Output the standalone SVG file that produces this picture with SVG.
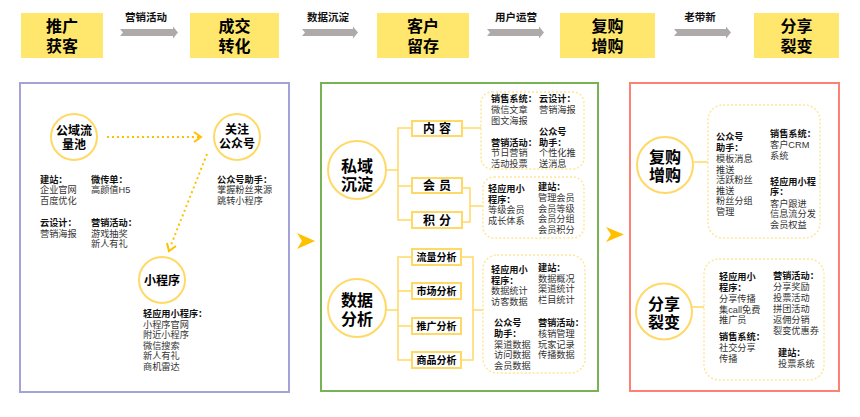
<svg xmlns="http://www.w3.org/2000/svg" width="860" height="417" viewBox="0 0 860 417">
<style>
text{font-family:"Liberation Sans","Noto Sans CJK SC",sans-serif;}
.top{font-size:16px;font-weight:bold;fill:#000;text-anchor:middle;}
.lbl{font-size:10.5px;font-weight:bold;fill:#111;text-anchor:middle;}
.ybox{fill:#FFE66D;}
.garrow{fill:#AEAAAA;}
.panel{fill:#fff;stroke-width:2;}
.circ{fill:#fff;stroke:#FFD966;stroke-width:2;}
.ct{font-size:12px;font-weight:bold;fill:#000;text-anchor:middle;}
.cb{font-size:16px;font-weight:bold;fill:#000;text-anchor:middle;}
.d{font-size:9.2px;fill:#333;}
.h{font-weight:bold;fill:#111;}
.dot{fill:none;stroke:#FFC000;stroke-width:2;stroke-dasharray:2 3;}
.dhead{fill:none;stroke:#FFC000;stroke-width:2;}
.br{fill:none;stroke:#FFD966;stroke-width:1.5;}
.sb{fill:#fff;stroke:#FFD966;stroke-width:2;}
.sbt{font-size:12px;font-weight:bold;fill:#000;text-anchor:middle;letter-spacing:4px;}
.sbs{font-size:10px;font-weight:bold;fill:#000;text-anchor:middle;}
.db{fill:#fff;stroke:#FFE699;stroke-width:1.5;stroke-dasharray:2 2;}
.chev{fill:#FFC000;}
</style>

<!-- Top flow -->
<g id="stage1"><rect class="ybox" x="21" y="13" width="82" height="45"/><text class="top" x="62" y="32">推广</text><text class="top" x="62" y="52">获客</text></g>
<g id="stage2"><rect class="ybox" x="190" y="13" width="89" height="45"/><text class="top" x="234.5" y="32">成交</text><text class="top" x="234.5" y="52">转化</text></g>
<g id="stage3"><rect class="ybox" x="377" y="13" width="92" height="45"/><text class="top" x="423" y="32">客户</text><text class="top" x="423" y="52">留存</text></g>
<g id="stage4"><rect class="ybox" x="560" y="13" width="95" height="45"/><text class="top" x="607.5" y="32">复购</text><text class="top" x="607.5" y="52">增购</text></g>
<g id="stage5"><rect class="ybox" x="754" y="13" width="85" height="45"/><text class="top" x="796.5" y="32">分享</text><text class="top" x="796.5" y="52">裂变</text></g>

<g id="top-connectors">
<polygon class="garrow" points="120,29 173,29 173,26.5 178,32.5 173,38.5 173,36 120,36 123,32.5"/>
<text class="lbl" x="146" y="21">营销活动</text>
<polygon class="garrow" points="302,29 353,29 353,26.5 358,32.5 353,38.5 353,36 302,36 305,32.5"/>
<text class="lbl" x="328" y="21">数据沉淀</text>
<polygon class="garrow" points="487,29 539,29 539,26.5 544,32.5 539,38.5 539,36 487,36 490,32.5"/>
<text class="lbl" x="516" y="21">用户运营</text>
<polygon class="garrow" points="674,29 726,29 726,26.5 731,32.5 726,38.5 726,36 674,36 677,32.5"/>
<text class="lbl" x="700" y="21">老带新</text>
</g>

<!-- Panels -->
<rect class="panel" x="20" y="83" width="269" height="309" stroke="#A3A3D9"/>
<rect class="panel" x="321" y="83" width="277" height="308" stroke="#77B255"/>
<rect class="panel" x="630" y="83" width="209" height="308" stroke="#FF8075"/>
<polygon class="chev" points="297,233 315,241 297,249 302,241"/>
<polygon class="chev" points="606,227 624,234.5 606,242 611,234.5"/>

<!-- Left panel connectors -->
<g id="left-connectors">
<line class="dot" x1="107" y1="137" x2="199" y2="137"/>
<polyline class="dhead" points="194,132 201,137 194,142"/>
<line class="dot" x1="207" y1="154" x2="171" y2="245"/>
<polyline class="dhead" points="176,246 169,251 167,243"/>
</g>

<g id="gongyu"><circle class="circ" cx="74" cy="137" r="23"/><text class="ct" x="74" y="135">公域流</text><text class="ct" x="74" y="149">量池</text></g>
<g id="guanzhu"><circle class="circ" cx="237" cy="137" r="23"/><text class="ct" x="237" y="134">关注</text><text class="ct" x="237" y="148">公众号</text></g>
<g id="xiaochengxu"><circle class="circ" cx="162" cy="280" r="23"/><text class="ct" x="162" y="285">小程序</text></g>

<g id="left-notes">
<text class="d" x="40" y="182.5"><tspan class="h">建站：</tspan><tspan x="40" dy="10.5">企业官网</tspan><tspan x="40" dy="10.5">百度优化</tspan></text>
<text class="d" x="91" y="182.5"><tspan class="h">微传单：</tspan><tspan x="91" dy="10.5">高颜值H5</tspan></text>
<text class="d" x="40" y="226"><tspan class="h">云设计：</tspan><tspan x="40" dy="10.5">营销海报</tspan></text>
<text class="d" x="91" y="226"><tspan class="h">营销活动：</tspan><tspan x="91" dy="10.5">游戏抽奖</tspan><tspan x="91" dy="10.5">新人有礼</tspan></text>
<text class="d" x="217" y="182.5"><tspan class="h">公众号助手：</tspan><tspan x="217" dy="10.5">掌握粉丝来源</tspan><tspan x="217" dy="10.5">跳转小程序</tspan></text>
<text class="d" x="143" y="317"><tspan class="h">轻应用小程序：</tspan><tspan x="143" dy="10.5">小程序官网</tspan><tspan x="143" dy="10.5">附近小程序</tspan><tspan x="143" dy="10.5">微信搜索</tspan><tspan x="143" dy="10.5">新人有礼</tspan><tspan x="143" dy="10.5">商机雷达</tspan></text>
</g>

<!-- Middle panel connectors -->
<g id="mid-connectors">
<polyline class="br" points="386,170 398,170"/>
<polyline class="br" points="412,128 398,128 398,220 412,220"/>
<line class="br" x1="398" y1="186" x2="412" y2="186"/>
<line class="br" x1="462" y1="128" x2="481" y2="128"/>
<polyline class="br" points="462,188 470,188 470,222 462,222"/>
<line class="br" x1="470" y1="206" x2="483" y2="206"/>
<polyline class="br" points="386,310 398,310"/>
<polyline class="br" points="412,257 398,257 398,360 412,360"/>
<line class="br" x1="398" y1="291" x2="412" y2="291"/>
<line class="br" x1="398" y1="326" x2="412" y2="326"/>
<polyline class="br" points="461,257 473,257 473,360 461,360"/>
<line class="br" x1="473" y1="310" x2="483" y2="310"/>
</g>

<g id="siyu"><circle class="circ" cx="357" cy="170" r="29"/><text class="cb" x="357" y="172">私域</text><text class="cb" x="357" y="190">沉淀</text></g>
<g id="shuju"><circle class="circ" cx="357" cy="308" r="29"/><text class="cb" x="357" y="306">数据</text><text class="cb" x="357" y="324.5">分析</text></g>

<g id="neirong"><rect class="sb" x="412" y="121" width="50" height="15"/><text class="sbt" x="439" y="133">内容</text></g>
<g id="huiyuan"><rect class="sb" x="412" y="178" width="50" height="15"/><text class="sbt" x="439" y="190">会员</text></g>
<g id="jifen"><rect class="sb" x="412" y="212" width="50" height="16"/><text class="sbt" x="439" y="224.5">积分</text></g>
<g id="liuliang"><rect class="sb" x="412" y="249" width="49" height="16"/><text class="sbs" x="436.5" y="261">流量分析</text></g>
<g id="shichang"><rect class="sb" x="412" y="283" width="49" height="16"/><text class="sbs" x="436.5" y="295">市场分析</text></g>
<g id="tuiguang"><rect class="sb" x="412" y="318" width="49" height="16"/><text class="sbs" x="436.5" y="330">推广分析</text></g>
<g id="shangpin"><rect class="sb" x="412" y="352" width="49" height="16"/><text class="sbs" x="436.5" y="364">商品分析</text></g>

<g id="mid-box1"><rect class="db" x="481" y="92" width="103" height="77" rx="11"/>
<text class="d" x="491" y="101.5"><tspan class="h">销售系统：</tspan><tspan x="491" dy="11">微信文章</tspan><tspan x="491" dy="11">图文海报</tspan></text>
<text class="d" x="539" y="101.5"><tspan class="h">云设计：</tspan><tspan x="539" dy="11">营销海报</tspan></text>
<text class="d" x="539" y="134.5"><tspan class="h">公众号</tspan><tspan class="h" x="539" dy="11">助手：</tspan><tspan x="539" dy="10.5">个性化推</tspan><tspan x="539" dy="10.5">送消息</tspan></text>
<text class="d" x="491" y="145.5"><tspan class="h">营销活动：</tspan><tspan x="491" dy="10.5">节日营销</tspan><tspan x="491" dy="10.5">活动投票</tspan></text>
</g>
<g id="mid-box2"><rect class="db" x="483" y="177" width="101" height="61" rx="11"/>
<text class="d" x="488" y="192"><tspan class="h">轻应用小</tspan><tspan class="h" x="488" dy="10.5">程序：</tspan><tspan x="488" dy="10.8">等级会员</tspan><tspan x="488" dy="10.7">成长体系</tspan></text>
<text class="d" x="538" y="190"><tspan class="h">建站：</tspan><tspan x="538" dy="10.8">管理会员</tspan><tspan x="538" dy="10.7">会员等级</tspan><tspan x="538" dy="10.7">会员分组</tspan><tspan x="538" dy="10.7">会员积分</tspan></text>
</g>
<g id="mid-box3"><rect class="db" x="483" y="255" width="102" height="118" rx="14"/>
<text class="d" x="491" y="273"><tspan class="h">轻应用小</tspan><tspan class="h" x="491" dy="10.5">程序：</tspan><tspan x="491" dy="10.5">数据统计</tspan><tspan x="491" dy="11">访客数据</tspan></text>
<text class="d" x="538" y="271"><tspan class="h">建站：</tspan><tspan x="538" dy="10.5">数据概况</tspan><tspan x="538" dy="10.7">渠道统计</tspan><tspan x="538" dy="10.7">栏目统计</tspan></text>
<text class="d" x="494" y="326"><tspan class="h">公众号</tspan><tspan class="h" x="494" dy="11">助手：</tspan><tspan x="494" dy="10.5">渠道数据</tspan><tspan x="494" dy="10.7">访问数据</tspan><tspan x="494" dy="10.7">会员数据</tspan></text>
<text class="d" x="538" y="326"><tspan class="h">营销活动：</tspan><tspan x="538" dy="11">核销管理</tspan><tspan x="538" dy="10.5">玩家记录</tspan><tspan x="538" dy="10.5">传播数据</tspan></text>
</g>

<!-- Right panel -->
<g id="right-connectors">
<line class="br" x1="693" y1="162" x2="708" y2="162"/>
<line class="br" x1="692" y1="307" x2="704" y2="307"/>
</g>
<g id="fugou"><circle class="circ" cx="665" cy="165" r="28"/><text class="cb" x="665" y="163">复购</text><text class="cb" x="665" y="181">增购</text></g>
<g id="fenxiang"><circle class="circ" cx="664" cy="311.5" r="28"/><text class="cb" x="664" y="309.5">分享</text><text class="cb" x="664" y="327.5">裂变</text></g>

<g id="right-box1"><rect class="db" x="708" y="105" width="112" height="133" rx="15"/>
<text class="d" x="716" y="140"><tspan class="h">公众号</tspan><tspan class="h" x="716" dy="11">助手：</tspan><tspan x="716" dy="10.8">模板消息</tspan><tspan x="716" dy="10.8">推送</tspan><tspan x="716" dy="10.6">活跃粉丝</tspan><tspan x="716" dy="10.4">推送</tspan><tspan x="716" dy="10.8">粉丝分组</tspan><tspan x="716" dy="10.6">管理</tspan></text>
<text class="d" x="770" y="137"><tspan class="h">销售系统：</tspan><tspan x="770" dy="11">客户CRM</tspan><tspan x="770" dy="11">系统</tspan></text>
<text class="d" x="770" y="184.5"><tspan class="h">轻应用小程</tspan><tspan class="h" x="770" dy="10.7">序：</tspan><tspan x="770" dy="11.5">客户跟进</tspan><tspan x="770" dy="10.7">信息流分发</tspan><tspan x="770" dy="10.9">会员权益</tspan></text>
</g>
<g id="right-box2"><rect class="db" x="704" y="259" width="120" height="121" rx="15"/>
<text class="d" x="719" y="280"><tspan class="h">轻应用小</tspan><tspan class="h" x="719" dy="11">程序：</tspan><tspan x="719" dy="10.8">分享传播</tspan><tspan x="719" dy="10.7">集call免费</tspan><tspan x="719" dy="10.9">推广员</tspan></text>
<text class="d" x="719" y="339.5"><tspan class="h">销售系统：</tspan><tspan x="719" dy="11.3">社交分享</tspan><tspan x="719" dy="11">传播</tspan></text>
<text class="d" x="773" y="279"><tspan class="h">营销活动：</tspan><tspan x="773" dy="11">分享奖励</tspan><tspan x="773" dy="11">投票活动</tspan><tspan x="773" dy="10.8">拼团活动</tspan><tspan x="773" dy="10.7">返佣分销</tspan><tspan x="773" dy="11">裂变优惠券</tspan></text>
<text class="d" x="778" y="356"><tspan class="h">建站：</tspan><tspan x="778" dy="10.5">投票系统</tspan></text>
</g>
</svg>
